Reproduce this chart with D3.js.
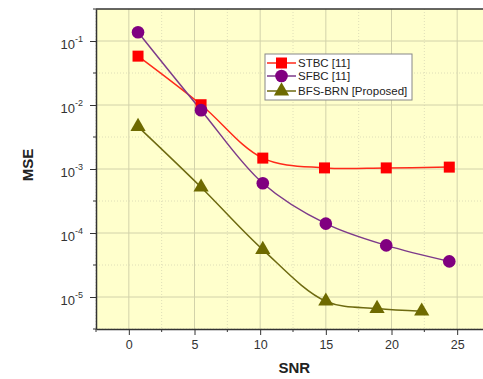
<!DOCTYPE html>
<html>
  <head>
    <script src="https://d3js.org/d3.v7.min.js"></script>
    <style>
      body { margin: 0; background: #fff; }
      svg { font-family: "Liberation Sans", Arial, sans-serif; }
    </style>
  </head>
  <body>
    <svg width="483" height="379"></svg>
    <script>
      // data
      const seriesNames = ["STBC [11]", "SFBC [11]", "BFS-BRN [Proposed]"];
      const stbcX = [0.7, 5.5, 10.2, 14.9, 19.6, 24.4];
      const stbcY = [0.058, 0.0101, 0.00148, 0.00104, 0.00104, 0.00107];
      const sfbcX = [0.7, 5.5, 10.2, 15.0, 19.6, 24.4];
      const sfbcY = [0.137, 0.0083, 0.0006, 0.00014, 0.000064, 0.000036];
      const brnX = [0.7, 5.5, 10.2, 15.0, 18.9, 22.3];
      const brnY = [0.0046, 0.00052, 0.000055, 0.0000086, 0.0000066, 0.000006];
      const xTicks = [0, 5, 10, 15, 20, 25];
      const yTicks = [-1, -2, -3, -4, -5]; // exponents

      const svg = d3.select("svg");

      const x = d3.scaleLinear().domain([-2.5, 27.5]).range([96, 490]);
      const y = d3.scaleLog().domain([Math.pow(10, -5.5), Math.pow(10, -0.5)]).range([329, 9]);

      // plot background
      svg.append("rect")
        .attr("x", x(-2.5)).attr("y", y.range()[1])
        .attr("width", x(27.5) - x(-2.5)).attr("height", y.range()[0] - y.range()[1])
        .attr("fill", "#ffffcc");

      // grid
      const xMinor = d3.range(-2.5, 27.6, 2.5).filter(v => !xTicks.includes(v));
      const yMinor = yTicks.map(e => Math.pow(10, e - 0.5)).concat([Math.pow(10, -0.5)]);
      const grid = svg.append("g");
      grid.selectAll(".gx").data(xTicks).join("line")
        .attr("x1", d => x(d)).attr("x2", d => x(d))
        .attr("y1", 9).attr("y2", 329)
        .attr("stroke", "#d2d2aa").attr("stroke-width", 1);
      grid.selectAll(".gxm").data(xMinor).join("line")
        .attr("x1", d => x(d)).attr("x2", d => x(d))
        .attr("y1", 9).attr("y2", 329)
        .attr("stroke", "#dedeb8").attr("stroke-width", 1).attr("stroke-dasharray", "1,2");
      grid.selectAll(".gy").data(yTicks).join("line")
        .attr("x1", 96).attr("x2", 490)
        .attr("y1", d => y(Math.pow(10, d))).attr("y2", d => y(Math.pow(10, d)))
        .attr("stroke", "#d2d2aa").attr("stroke-width", 1);
      grid.selectAll(".gym").data(yMinor.slice(0, 5)).join("line")
        .attr("x1", 96).attr("x2", 490)
        .attr("y1", d => y(d)).attr("y2", d => y(d))
        .attr("stroke", "#dedeb8").attr("stroke-width", 1).attr("stroke-dasharray", "1,2");

      // axes
      const xAxis = svg.append("g")
        .attr("transform", "translate(0,329)")
        .call(d3.axisBottom(x).tickValues(xTicks).tickSize(6).tickSizeOuter(0).tickPadding(5));
      xAxis.append("g").selectAll("line").data(xMinor).join("line")
        .attr("x1", d => x(d)).attr("x2", d => x(d)).attr("y1", 0).attr("y2", 3)
        .attr("stroke", "#333");

      const yAxis = svg.append("g")
        .attr("transform", "translate(96,0)")
        .call(d3.axisLeft(y).tickValues(yTicks.map(e => Math.pow(10, e))).tickSize(6).tickSizeOuter(0).tickPadding(12).tickFormat(""));
      yAxis.append("g").selectAll("line").data(yMinor).join("line")
        .attr("y1", d => y(d)).attr("y2", d => y(d)).attr("x1", 0).attr("x2", -3)
        .attr("stroke", "#333");

      [xAxis, yAxis].forEach(g => {
        g.select(".domain").attr("stroke", "#333").attr("stroke-width", 1.5);
        g.selectAll(".tick line").attr("stroke", "#333");
        g.selectAll("text").attr("font-family", "Liberation Sans, Arial, sans-serif")
          .attr("font-size", 12.5).attr("fill", "#333");
      });

      yAxis.selectAll(".tick").each(function (d) {
        const e = Math.round(Math.log10(d));
        const t = d3.select(this).select("text").attr("x", -13).attr("dy", "0.6em")
          .attr("font-size", 13);
        t.append("tspan").text("10");
        t.append("tspan").attr("dy", "-0.8em").attr("font-size", 9).text(e);
      });

      // top border
      svg.append("line").attr("x1", 96).attr("x2", 490).attr("y1", 9).attr("y2", 9)
        .attr("stroke", "#333").attr("stroke-width", 1.5);

      // series
      const series = [
        { name: seriesNames[0], xs: stbcX, ys: stbcY, color: "#ff0000", line: "#ff2a1a", shape: d3.symbolSquare, size: 121 },
        { name: seriesNames[1], xs: sfbcX, ys: sfbcY, color: "#800080", line: "#7d3a8a", shape: d3.symbolCircle, size: 125 },
        { name: seriesNames[2], xs: brnX, ys: brnY, color: "#6e6a00", line: "#6e6a10", shape: d3.symbolTriangle, size: 100 }
      ];

      const line = d3.line().curve(d3.curveCatmullRom.alpha(0.5))
        .x(d => x(d[0])).y(d => y(d[1]));

      series.forEach(s => {
        const pts = s.xs.map((v, i) => [v, s.ys[i]]);
        svg.append("path").datum(pts).attr("d", line)
          .attr("fill", "none").attr("stroke", s.line).attr("stroke-width", 1.5);
      });
      series.forEach(s => {
        const pts = s.xs.map((v, i) => [v, s.ys[i]]);
        svg.append("g").selectAll("path").data(pts).join("path")
          .attr("d", d3.symbol().type(s.shape).size(s.size))
          .attr("transform", d => `translate(${x(d[0])},${y(d[1])})`)
          .attr("fill", s.color);
      });

      // legend
      const legend = svg.append("g").attr("transform", "translate(265,54)");
      legend.append("rect").attr("width", 147).attr("height", 46)
        .attr("fill", "#ffffff").attr("stroke", "#888").attr("stroke-width", 1);
      const rowY = [9, 22, 37];
      series.forEach((s, i) => {
        const r = legend.append("g").attr("transform", `translate(0,${rowY[i]})`);
        r.append("line").attr("x1", 2).attr("x2", 31).attr("stroke", s.line).attr("stroke-width", 1.5);
        r.append("path").attr("d", d3.symbol().type(s.shape).size(s.size))
          .attr("transform", "translate(16.5,0)").attr("fill", s.color);
        r.append("text").attr("x", 33).attr("dy", "0.36em")
          .attr("font-size", 11.5).attr("fill", "#222").text(s.name);
      });

      // axis titles
      svg.append("text").attr("x", x(12.6)).attr("y", 373).attr("text-anchor", "middle")
        .attr("font-size", 15).attr("font-weight", "bold").attr("fill", "#222").text("SNR");
      svg.append("text").attr("transform", "translate(33,165) rotate(-90)").attr("text-anchor", "middle")
        .attr("font-size", 15).attr("font-weight", "bold").attr("fill", "#222").text("MSE");
    </script>
  </body>
</html>
